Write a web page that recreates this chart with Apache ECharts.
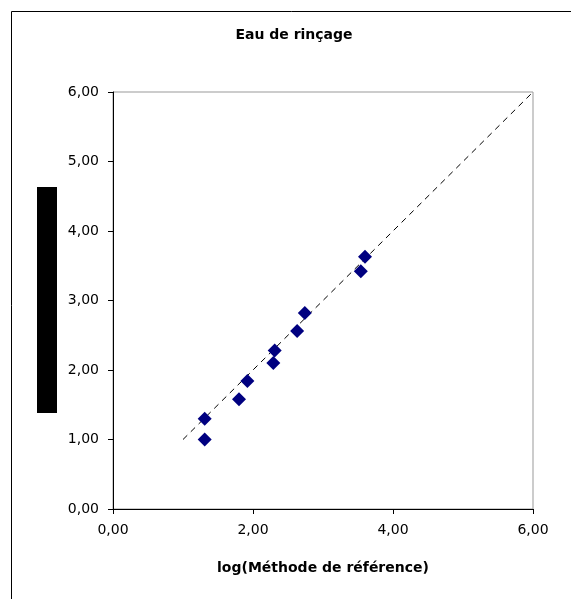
<!DOCTYPE html>
<html><head><meta charset="utf-8">
<script src="https://cdn.jsdelivr.net/npm/echarts@6/dist/echarts.min.js"></script>
<style>html,body{margin:0;padding:0;background:#fff}#c{width:571px;height:599px}</style>
</head><body><div id="c"></div>
<script>
const xValues = [1.31, 1.31, 1.80, 1.92, 2.29, 2.31, 2.63, 2.74, 3.54, 3.60];
const yValues = [1.30, 1.00, 1.58, 1.84, 2.10, 2.28, 2.56, 2.82, 3.42, 3.63];
const refLine = [[1, 1], [6, 6]];
const title = 'Eau de rinçage';
const xTitle = 'log(Méthode de référence)';

const chart = echarts.init(document.getElementById('c'), null, {renderer: 'canvas'});
const fmt = v => v.toFixed(2).replace('.', ',');
const F = 'DejaVu Sans';
chart.setOption({
  animation: false,
  title: {text: title, left: 289, top: 23, textAlign: 'center',
    textStyle: {fontFamily: F, fontSize: 14, fontWeight: 'bold', color: '#000'}},
  grid: {left: 113, right: 38, top: 92, bottom: 90, show: true, borderColor: '#999', borderWidth: 1},
  xAxis: {type: 'value', min: 0, max: 6, interval: 2,
    name: xTitle, nameLocation: 'middle', nameGap: 52,
    nameTextStyle: {fontFamily: F, fontSize: 14, fontWeight: 'bold', color: '#000'},
    axisLine: {show: true, onZero: false, lineStyle: {color: '#000', width: 1}},
    axisTick: {show: true, length: 5, lineStyle: {color: '#000'}},
    splitLine: {show: false},
    axisLabel: {formatter: fmt, fontFamily: F, fontSize: 14, color: '#000', margin: 14}},
  yAxis: {type: 'value', min: 0, max: 6, interval: 1,
    axisLine: {show: true, onZero: false, lineStyle: {color: '#000', width: 1}},
    axisTick: {show: true, length: 5, lineStyle: {color: '#000'}},
    splitLine: {show: false},
    axisLabel: {formatter: fmt, fontFamily: F, fontSize: 14, color: '#000', margin: 14}},
  graphic: [
    {type: 'rect', shape: {x: 11.5, y: 11.5, width: 700, height: 700}, style: {fill: 'none', stroke: '#000', lineWidth: 1}, z: -10},
    {type: 'rect', shape: {x: 37, y: 187, width: 20, height: 226}, style: {fill: '#000'}, z: 10}
  ],
  series: [
    {type: 'line', data: refLine, symbol: 'none', lineStyle: {color: '#000', width: 1, type: [6, 5]}, z: 1, silent: true},
    {type: 'scatter', data: xValues.map((x, i) => [x, yValues[i]]), symbol: 'diamond', symbolSize: 14,
      itemStyle: {color: '#000080', opacity: 1}, z: 3}
  ]
});
</script></body></html>
